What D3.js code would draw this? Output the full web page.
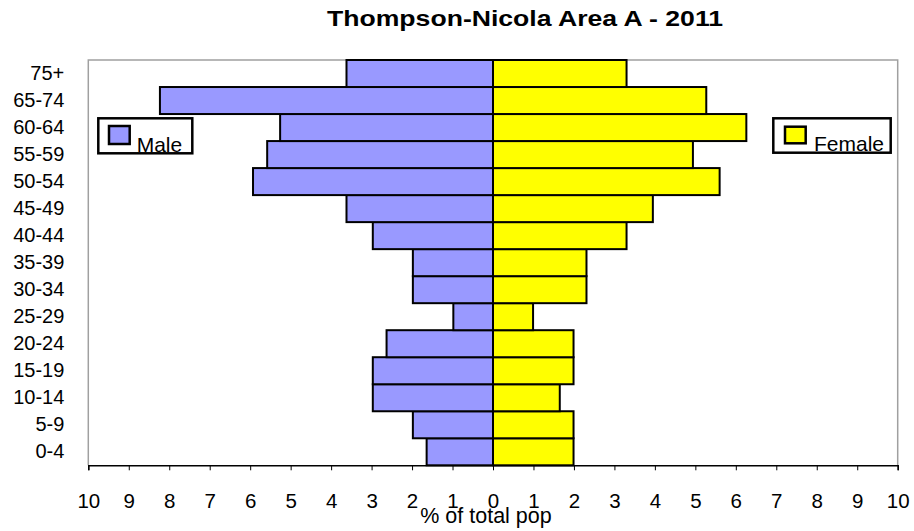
<!DOCTYPE html>
<html><head><meta charset="utf-8">
<script src="https://cdn.jsdelivr.net/npm/d3@7"></script>
<style>body{margin:0;background:#fff}svg{display:block;font-family:"Liberation Sans",Arial,sans-serif}</style>
</head><body><svg id="c" width="914" height="531"></svg>
<script>
const ageGroups = ["0-4","5-9","10-14","15-19","20-24","25-29","30-34","35-39","40-44","45-49","50-54","55-59","60-64","65-74","75+"];
const maleValues = [1.64,1.98,2.97,2.97,2.63,0.98,1.98,1.98,2.97,3.62,5.93,5.58,5.26,8.23,3.62];
const femaleValues = [1.99,1.99,1.65,1.99,1.99,0.99,2.31,2.31,3.30,3.95,5.60,4.94,6.26,5.27,3.30];
const xTicks = [-10,-9,-8,-7,-6,-5,-4,-3,-2,-1,0,1,2,3,4,5,6,7,8,9,10];
const title = "Thompson-Nicola Area A - 2011";
const xLabel = "% of total pop";
const seriesNames = ["Male","Female"];
const colors = ["#9999ff","#ffff00"];

const svg = d3.select("#c");
const L=88.3,R=897.7,T=60,B=465.3;
const x = d3.scaleLinear().domain([-10,10]).range([L,R]);
const y = d3.scaleBand().domain(ageGroups.slice().reverse()).range([T,B]).padding(0);

// plot border (gray)
svg.append("path").attr("d",`M${L},${B}V${T}H${R}V${B}`).attr("fill","none").attr("stroke","#a0a0a0").attr("stroke-width",1.5);

// bars
const g = svg.append("g");
g.selectAll("rect.m").data(ageGroups).join("rect").attr("class","m")
  .attr("x",(d,i)=>x(-maleValues[i])).attr("y",d=>y(d))
  .attr("width",(d,i)=>x(0)-x(-maleValues[i])).attr("height",y.bandwidth())
  .attr("fill",colors[0]).attr("stroke","#000").attr("stroke-width",2);
g.selectAll("rect.f").data(ageGroups).join("rect").attr("class","f")
  .attr("x",x(0)).attr("y",d=>y(d))
  .attr("width",(d,i)=>x(femaleValues[i])-x(0)).attr("height",y.bandwidth())
  .attr("fill",colors[1]).attr("stroke","#000").attr("stroke-width",2);

// x axis
const xa = svg.append("g").attr("transform",`translate(0,${B})`)
  .call(d3.axisBottom(x).tickValues(xTicks).tickFormat(d=>Math.abs(d)).tickSize(5).tickPadding(23));
xa.select(".domain").attr("stroke","#000").attr("stroke-width",1.5);
xa.selectAll(".tick line").attr("stroke","#000");
xa.selectAll("text").attr("font-size",20.5).attr("fill","#000").attr("font-family","Liberation Sans, Arial, sans-serif");

// y axis labels
const ya = svg.append("g").attr("transform",`translate(${L},0)`)
  .call(d3.axisLeft(y).tickSize(0).tickPadding(24));
ya.select(".domain").remove();
ya.selectAll("text").attr("font-size",20).attr("fill","#000").attr("font-family","Liberation Sans, Arial, sans-serif");

// title
svg.append("text").attr("x",525).attr("y",26).attr("text-anchor","middle")
  .attr("font-size",22.5).attr("font-weight","bold")
  .attr("textLength",396).attr("lengthAdjust","spacingAndGlyphs").text(title);
// x label
svg.append("text").attr("x",486).attr("y",523).attr("text-anchor","middle")
  .attr("font-size",21.5).text(xLabel);

// legends
const legends = [
  {box:[98.3,118.3,94,35],sw:[109,126,20.7,18],tx:[136.7,151.5]},
  {box:[773.3,118.3,117.4,34.4],sw:[785,126.7,20.7,16.6],tx:[814,151]}
];
legends.forEach((l,i)=>{
  const lg = svg.append("g");
  lg.append("rect").attr("x",l.box[0]).attr("y",l.box[1]).attr("width",l.box[2]).attr("height",l.box[3])
    .attr("fill","#fff").attr("stroke","#000").attr("stroke-width",2.5);
  lg.append("rect").attr("x",l.sw[0]).attr("y",l.sw[1]).attr("width",l.sw[2]).attr("height",l.sw[3])
    .attr("fill",colors[i]).attr("stroke","#000").attr("stroke-width",2.5);
  lg.append("text").attr("x",l.tx[0]).attr("y",l.tx[1]).attr("font-size",21).text(seriesNames[i]);
});
</script></body></html>
